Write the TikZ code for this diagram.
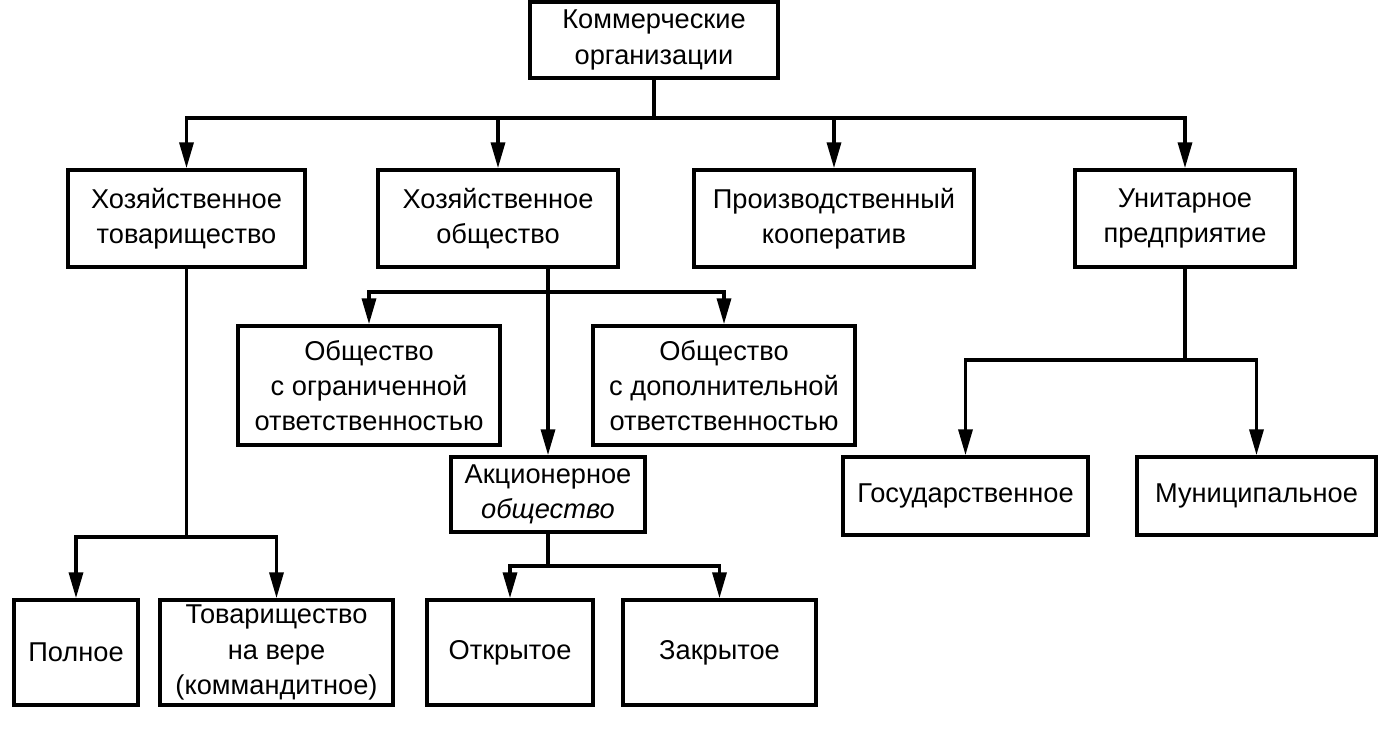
\documentclass[tikz,border=0pt]{standalone}
\usepackage{fontspec}
\setmainfont{Liberation Sans}
\usetikzlibrary{arrows.meta}

\begin{document}
\begin{tikzpicture}[x=0.02cm, y=-0.02cm, line width=2pt,
	orgbox/.style={draw, align=center, inner sep=0pt, font=\fontsize{15.5}{20}\selectfont},
	arr/.style={-{Triangle[length=0.52cm, width=0.28cm]}}]
		\useasboundingbox (0,0) rectangle (1390,732);
		\node[orgbox, minimum width=4.96cm, minimum height=1.52cm] (kom) at (654,40) {Коммерческие\\организации};
		
		\node[orgbox, minimum width=4.74cm, minimum height=1.94cm] (ht) at (186.5,218.5) {Хозяйственное\\товарищество};
		\node[orgbox, minimum width=4.8cm, minimum height=1.94cm] (ho) at (498,218.5) {Хозяйственное\\общество};
		\node[orgbox, minimum width=5.6cm, minimum height=1.94cm] (pk) at (834,218.5) {Производственный\\кооператив};
		\node[orgbox, minimum width=4.4cm, minimum height=1.94cm] (up) at (1185,218.5) {Унитарное\\предприятие};
		
		\node[orgbox, minimum width=5.24cm, minimum height=2.38cm] (ooo) at (369,385.5) {Общество\\с ограниченной\\ответственностью};
		\node[orgbox, minimum width=5.24cm, minimum height=2.38cm] (odo) at (724,385.5) {Общество\\с дополнительной\\ответственностью};
		\node[orgbox, minimum width=3.88cm, minimum height=1.5cm] (ao) at (548,494.5) {Акционерное\\\textit{общество}};
		\node[orgbox, minimum width=4.9cm, minimum height=1.56cm] (gos) at (965.5,496) {Государственное};
		\node[orgbox, minimum width=4.78cm, minimum height=1.56cm] (mun) at (1256.5,496) {Муниципальное};
		
		\node[orgbox, minimum width=2.48cm, minimum height=2.1cm] (pol) at (76,652.5) {Полное};
		\node[orgbox, minimum width=4.66cm, minimum height=2.1cm] (tnv) at (276.5,652.5) {Товарищество\\на вере\\(коммандитное)};
		\node[orgbox, minimum width=3.32cm, minimum height=2.1cm] (otk) at (510,652.5) {Открытое};
		\node[orgbox, minimum width=3.86cm, minimum height=2.1cm] (zak) at (719.5,652.5) {Закрытое};
		
		\coordinate (bus) at (654,118);
		\draw (kom.south) -- (bus);
		\foreach \n in {ht,ho,pk,up}
			\draw[arr] (bus) -| (\n.north);
		
		\coordinate (htbus) at (186.5,537);
		\draw[arr] (ht.south) -- (htbus) -| (pol.north);
		\draw[arr] (htbus) -| (tnv.north);
		
		\coordinate (hobus) at (548,292);
		\draw[arr] (ho.south -| ao.north) -- (ao.north);
		\draw[arr] (hobus) -| (ooo.north);
		\draw[arr] (hobus) -| (odo.north);
		
		\coordinate (aobus) at (548,566);
		\draw[arr] (ao.south) -- (aobus) -| (otk.north);
		\draw[arr] (aobus) -| (zak.north);
		
		\coordinate (upbus) at (1185,360);
		\draw[arr] (up.south) -- (upbus) -| (gos.north);
		\draw[arr] (upbus) -| (mun.north);
\end{tikzpicture}
\end{document}
